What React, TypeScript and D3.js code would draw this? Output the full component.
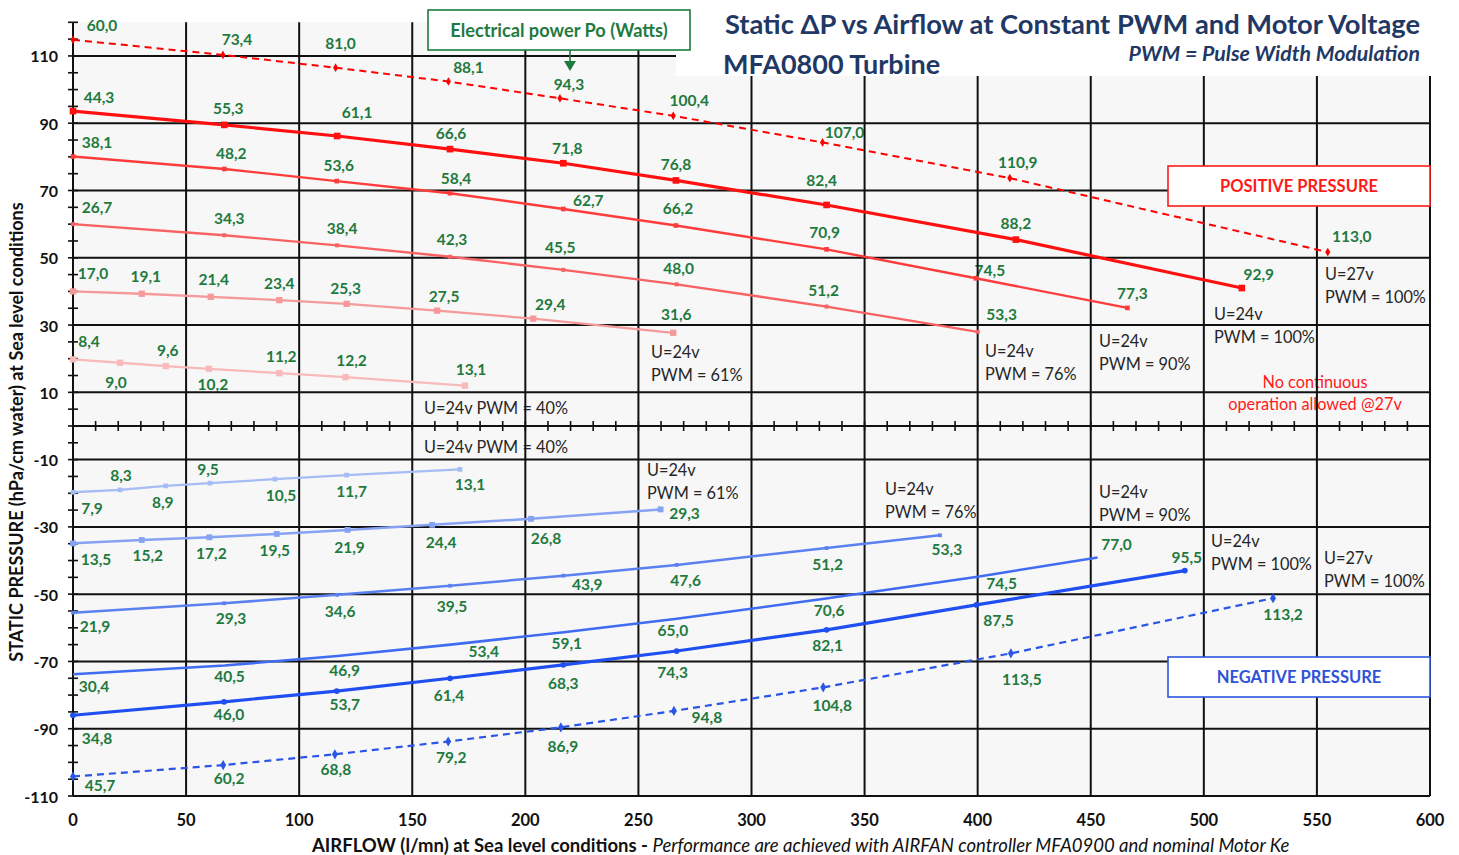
import React from 'react';
import * as d3 from 'd3';

// ---- data: airflow (l/mn), static pressure (hPa), electrical power (W) ----
// positive pressure
const flowP27 = [0, 66.3, 116.1, 166, 215.3, 265.4, 331.4, 414.2, 554.8];
const dpP27 = [114.8, 110.3, 106.5, 102.4, 97.4, 92.2, 84.3, 73.7, 51.7];
const powP27 = [60.0, 73.4, 81.0, 88.1, 94.3, 100.4, 107.0, 110.9, 113.0];

const flowP100 = [0, 66.9, 116.8, 166.7, 216.8, 266.6, 333.2, 416.9, 516.8];
const dpP100 = [93.6, 89.5, 86.2, 82.3, 78.1, 73.0, 65.7, 55.4, 41.0];
const powP100 = [44.3, 55.3, 61.1, 66.6, 71.8, 76.8, 82.4, 88.2, 92.9];

const flowP90 = [0, 66.9, 116.6, 166.7, 216.8, 266.6, 333.2, 399.2, 466.2];
const dpP90 = [80.1, 76.4, 72.8, 69.2, 64.5, 59.6, 52.5, 43.9, 35.1];
const powP90 = [38.1, 48.2, 53.6, 58.4, 62.7, 66.2, 70.9, 74.5, 77.3];

const flowP76 = [0, 66.9, 116.8, 166.7, 216.8, 266.9, 333.2, 400];
const dpP76 = [60.0, 56.7, 53.7, 50.3, 46.4, 42.1, 35.5, 28.0];
const powP76 = [26.7, 34.3, 38.4, 42.3, 45.5, 48.0, 51.2, 53.3];

const flowP61 = [0, 30.4, 60.9, 91.2, 121, 161, 203.5, 265.4];
const dpP61 = [40.0, 39.3, 38.4, 37.4, 36.3, 34.3, 31.9, 27.7];
const powP61 = [17.0, 19.1, 21.4, 23.4, 25.3, 27.5, 29.4, 31.6];

const flowP40 = [0, 20.8, 41, 60.1, 91.2, 120.5, 173.3];
const dpP40 = [19.8, 18.8, 17.8, 17.0, 15.7, 14.5, 12.0];
const powP40 = [8.4, 9.0, 9.6, 10.2, 11.2, 12.2, 13.1];

// negative pressure
const flowN40 = [0, 20.8, 41, 60.6, 89.3, 121, 171.1];
const dpN40 = [-19.7, -19.0, -17.8, -17.0, -15.8, -14.6, -12.9];
const powN40 = [7.9, 8.3, 8.9, 9.5, 10.5, 11.7, 13.1];

const flowN61 = [0, 30.4, 60.3, 90.1, 121.4, 158.8, 202.5, 259.8];
const dpN61 = [-34.9, -33.9, -33.1, -32.1, -30.9, -29.4, -27.6, -24.8];
const powN61 = [13.5, 15.2, 17.2, 19.5, 21.9, 24.4, 26.8, 29.3];

const flowN76 = [0, 66.8, 116.8, 166.7, 216.8, 266.9, 333.2, 383.3];
const dpN76 = [-55.5, -52.7, -50.2, -47.5, -44.5, -41.3, -36.3, -32.5];
const powN76 = [21.9, 29.3, 34.6, 39.5, 43.9, 47.6, 51.2, 53.3];

const flowN90 = [0, 67, 117, 167, 217, 267, 333, 400, 453];
const dpN90 = [-73.8, -71.2, -68.4, -65.0, -61.3, -57.3, -51.3, -44.8, -39.1];
const powN90 = [30.4, 40.5, 46.9, 53.4, 59.1, 65.0, 70.6, 74.5, 77.0];

const flowN100 = [0, 66.8, 116.6, 166.7, 216.8, 266.9, 333.2, 399.5, 491.6];
const dpN100 = [-86.0, -82.0, -78.8, -75.0, -71.0, -66.9, -60.6, -53.2, -43.0];
const powN100 = [34.8, 46.0, 53.7, 61.4, 68.3, 74.3, 82.1, 87.5, 95.5];

const flowN27 = [0, 66.4, 115.8, 165.9, 215.7, 265.7, 331.7, 414.7, 530.6];
const dpN27 = [-104.2, -100.8, -97.6, -93.8, -89.6, -84.7, -77.7, -67.6, -51.2];
const powN27 = [45.7, 60.2, 68.8, 79.2, 86.9, 94.8, 104.8, 113.5, 113.2];

const xTicks = [0, 50, 100, 150, 200, 250, 300, 350, 400, 450, 500, 550, 600];
const yTicks = [110, 90, 70, 50, 30, 10, -10, -30, -50, -70, -90, -110];

// ---- layout: where each power label sits relative to its point (px) ----
const offP27 = [[29, -15], [14, -16], [5, -25], [20, -15], [9, -14], [16, -16], [22, -10], [8, -16], [24, -16]];
const offP100 = [[26, -14], [4, -17], [20, -24], [1, -16], [4, -15], [0, -16], [-5, -25], [0, -17], [17, -14]];
const offP90 = [[24, -15], [7, -16], [2, -16], [6, -15], [25, -9], [2, -17], [-2, -17], [14, -8], [5, -15]];
const offP76 = [[24, -17], [5, -17], [5, -17], [2, -18], [-3, -23], [2, -16], [-3, -17], [24, -18]];
const offP61 = [[20, -18], [4, -18], [3, -18], [0, -17], [-1, -16], [7, -15], [17, -15], [3, -19]];
const offP40 = [[16, -18], [-4, 19], [2, -16], [4, 15], [2, -17], [6, -17], [6, -17]];
const offN40 = [[19, 16], [1, -15], [-3, 16], [-2, -14], [6, 16], [5, 16], [10, 15]];
const offN61 = [[23, 16], [6, 15], [2, 16], [-2, 16], [2, 17], [9, 17], [15, 19], [24, 4]];
const offN76 = [[22, 13], [7, 15], [3, 16], [2, 20], [24, 8], [9, 15], [1, 16], [7, 14]];
const offN90 = [[21, 12], [5, 11], [7, 14], [33, 6], [3, 11], [-4, 11], [3, 11], [24, 6], [19, -13]];
const offN100 = [[24, 23], [5, 12], [8, 13], [-1, 17], [0, 18], [-4, 21], [1, 15], [22, 15], [2, -14]];
const offN27 = [[27, 9], [6, 13], [1, 15], [3, 15], [2, 19], [33, 6], [9, 18], [11, 26], [10, 16]];

const W = 1459;
const H = 855;
const FONT = "Lato, 'Open Sans', 'DejaVu Sans', sans-serif";
const GREEN = '#1f7a3f';
const NAVY = '#1f3864';

const x = d3.scaleLinear().domain([0, 600]).range([73, 1430]);
const y = d3.scaleLinear().domain([-110, 120]).range([796, 22.3]);

const series = [
  { flow: flowP27, dp: dpP27, pow: powP27, off: offP27, color: '#ff0000', width: 2, dash: '7 5', sym: d3.symbolDiamond, size: 22 },
  { flow: flowP100, dp: dpP100, pow: powP100, off: offP100, color: '#ff1010', width: 3.2, dash: null, sym: d3.symbolSquare, size: 44 },
  { flow: flowP90, dp: dpP90, pow: powP90, off: offP90, color: '#ff3c3c', width: 2.4, dash: null, sym: d3.symbolSquare, size: 22 },
  { flow: flowP76, dp: dpP76, pow: powP76, off: offP76, color: '#f86262', width: 2.3, dash: null, sym: d3.symbolSquare, size: 16 },
  { flow: flowP61, dp: dpP61, pow: powP61, off: offP61, color: '#f59a9a', width: 2.3, dash: null, sym: d3.symbolSquare, size: 40 },
  { flow: flowP40, dp: dpP40, pow: powP40, off: offP40, color: '#f8baba', width: 2.3, dash: null, sym: d3.symbolSquare, size: 40 },
  { flow: flowN40, dp: dpN40, pow: powN40, off: offN40, color: '#a6bcf4', width: 2.3, dash: null, sym: d3.symbolSquare, size: 22 },
  { flow: flowN61, dp: dpN61, pow: powN61, off: offN61, color: '#86a2f2', width: 2.5, dash: null, sym: d3.symbolSquare, size: 34 },
  { flow: flowN76, dp: dpN76, pow: powN76, off: offN76, color: '#5b80f0', width: 2.5, dash: null, sym: d3.symbolSquare, size: 14 },
  { flow: flowN90, dp: dpN90, pow: powN90, off: offN90, color: '#3f6cf2', width: 2.6, dash: null, sym: null, size: 0 },
  { flow: flowN100, dp: dpN100, pow: powN100, off: offN100, color: '#1f4ff0', width: 3.2, dash: null, sym: d3.symbolCircle, size: 26 },
  { flow: flowN27, dp: dpN27, pow: powN27, off: offN27, color: '#2a55e6', width: 2.2, dash: '7 5', sym: d3.symbolDiamond, size: 30 },
];

const notes = [
  { x: 424, y: 407, lines: ['U=24v PWM = 40%'] },
  { x: 424, y: 446, lines: ['U=24v PWM = 40%'] },
  { x: 651, y: 351, lines: ['U=24v', 'PWM = 61%'] },
  { x: 647, y: 469, lines: ['U=24v', 'PWM = 61%'] },
  { x: 985, y: 350, lines: ['U=24v', 'PWM = 76%'] },
  { x: 885, y: 488, lines: ['U=24v', 'PWM = 76%'] },
  { x: 1099, y: 340, lines: ['U=24v', 'PWM = 90%'] },
  { x: 1099, y: 491, lines: ['U=24v', 'PWM = 90%'] },
  { x: 1214, y: 313, lines: ['U=24v', 'PWM = 100%'] },
  { x: 1211, y: 540, lines: ['U=24v', 'PWM = 100%'] },
  { x: 1325, y: 273, lines: ['U=27v', 'PWM = 100%'] },
  { x: 1324, y: 557, lines: ['U=27v', 'PWM = 100%'] },
];

const fmt = (v: number) => v.toFixed(1).replace('.', ',');

export default function App() {
  const line = d3.line<[number, number]>().x(d => x(d[0])).y(d => y(d[1]));
  const yMinor = d3.range(-110, 121, 5);
  const xMinor = d3.range(10, 600, 10);
  const top = y(120);
  const bottom = y(-110);

  return (
    <div style={{ position: 'absolute', left: 0, top: 0 }}>
      <svg width={W} height={H} style={{ display: 'block', background: '#fff', fontFamily: FONT }}>
        {/* plot background */}
        <rect x={x(0)} y={top} width={x(600) - x(0)} height={bottom - top} fill="#f7f7f7" />

        {/* annotation texts (under the grid, as in the original) */}
        {notes.map((n, i) => (
          <text key={'n' + i} fontSize={16.3} fill="#262626">
            {n.lines.map((l, j) => (
              <tspan key={j} x={n.x} y={n.y + j * 23} dominantBaseline="central">{l}</tspan>
            ))}
          </text>
        ))}
        <text fontSize={16.3} fill="#ff1a1a" textAnchor="middle">
          <tspan x={1315} y={381} dominantBaseline="central">No continuous</tspan>
          <tspan x={1315} y={403} dominantBaseline="central">operation allowed @27v</tspan>
        </text>

        {/* power labels */}
        {series.map((s, si) => s.pow.map((p, i) => (
          <text key={`l${si}-${i}`} x={x(s.flow[i]) + s.off[i][0]} y={y(s.dp[i]) + s.off[i][1]}
            textAnchor="middle" dominantBaseline="central" fontSize={15.5} fontWeight={700} fill={GREEN}>
            {fmt(p)}
          </text>
        )))}

        {/* grid */}
        <g stroke="#111" strokeWidth={2}>
          {yTicks.map(t => <line key={'gy' + t} x1={x(0)} x2={x(600)} y1={y(t)} y2={y(t)} />)}
          <line x1={x(0)} x2={x(600)} y1={y(0)} y2={y(0)} />
          {xTicks.map(t => <line key={'gx' + t} x1={x(t)} x2={x(t)} y1={top} y2={bottom} />)}
          {yMinor.map(t => <line key={'ty' + t} x1={x(0) - 5} x2={x(0) + 5} y1={y(t)} y2={y(t)} strokeWidth={1.6} />)}
          {xMinor.map(t => <line key={'tx' + t} x1={x(t)} x2={x(t)} y1={y(0) - 5} y2={y(0) + 5} strokeWidth={1.6} />)}
        </g>

        {/* series */}
        {series.map((s, si) => {
          const pts = s.flow.map((f, i) => [f, s.dp[i]] as [number, number]);
          const sym = s.sym ? d3.symbol().type(s.sym).size(s.size)() : null;
          return (
            <g key={'s' + si}>
              <path d={line(pts) || ''} fill="none" stroke={s.color} strokeWidth={s.width}
                strokeDasharray={s.dash || undefined} strokeLinejoin="round" />
              {sym && pts.map((p, i) => (
                <path key={i} d={sym} transform={`translate(${x(p[0])},${y(p[1])})`} fill={s.color} />
              ))}
            </g>
          );
        })}

        {/* axis tick labels */}
        {yTicks.map(t => (
          <text key={'yl' + t} x={58} y={y(t)} textAnchor="end" dominantBaseline="central"
            fontSize={16} fontWeight={700} fill="#111">{t}</text>
        ))}
        {xTicks.map(t => (
          <text key={'xl' + t} x={x(t)} y={820} textAnchor="middle" dominantBaseline="central"
            fontSize={16.5} fontWeight={700} fill="#111">{t}</text>
        ))}

        {/* axis titles */}
        <text transform="translate(16,432) rotate(-90)" textAnchor="middle" dominantBaseline="central"
          fontSize={18} fontWeight={700} fill="#111">
          STATIC PRESSURE (hPa/cm water) at Sea level conditions
        </text>
        <text x={312} y={845} dominantBaseline="central" fontSize={18.5} fill="#111">
          <tspan fontWeight={700}>AIRFLOW (l/mn) at Sea level conditions</tspan>
          <tspan fontWeight={700}>{'  -  '}</tspan>
          <tspan fontStyle="italic">Performance are achieved with AIRFAN controller MFA0900 and nominal Motor Ke</tspan>
        </text>

        {/* title block */}
        <rect x={676} y={0} width={770} height={76} fill="#fff" />
        <text x={1420} y={23} textAnchor="end" dominantBaseline="central" fontSize={27.3} fontWeight={700} fill={NAVY}>
          Static ΔP vs Airflow at Constant PWM and Motor Voltage
        </text>
        <text x={723} y={63} dominantBaseline="central" fontSize={27} fontWeight={700} fill={NAVY}>
          MFA0800 Turbine
        </text>
        <text x={1420} y={53} textAnchor="end" dominantBaseline="central" fontSize={21.3} fontWeight={700}
          fontStyle="italic" fill={NAVY}>
          PWM = Pulse Width Modulation
        </text>

        {/* electrical power callout */}
        <rect x={428} y={10} width={262} height={40} fill="#fff" stroke={GREEN} strokeWidth={1.6} />
        <text x={559} y={30} textAnchor="middle" dominantBaseline="central" fontSize={18.2} fontWeight={700} fill={GREEN}>
          Electrical power Po (Watts)
        </text>
        <line x1={570} x2={570} y1={50} y2={62} stroke={GREEN} strokeWidth={1.6} />
        <path d="M564,61 L576,61 L570,71 Z" fill={GREEN} />

        {/* pressure boxes */}
        <rect x={1168} y={166} width={262} height={40} fill="#fff" stroke="#ff1a1a" strokeWidth={1.6} />
        <text x={1299} y={186} textAnchor="middle" dominantBaseline="central" fontSize={16.5} fontWeight={700} fill="#ff1a1a">
          POSITIVE PRESSURE
        </text>
        <rect x={1168} y={657} width={262} height={40} fill="#fff" stroke="#2f55e0" strokeWidth={1.6} />
        <text x={1299} y={677} textAnchor="middle" dominantBaseline="central" fontSize={16.5} fontWeight={700} fill="#2f52d9">
          NEGATIVE PRESSURE
        </text>
      </svg>
    </div>
  );
}
